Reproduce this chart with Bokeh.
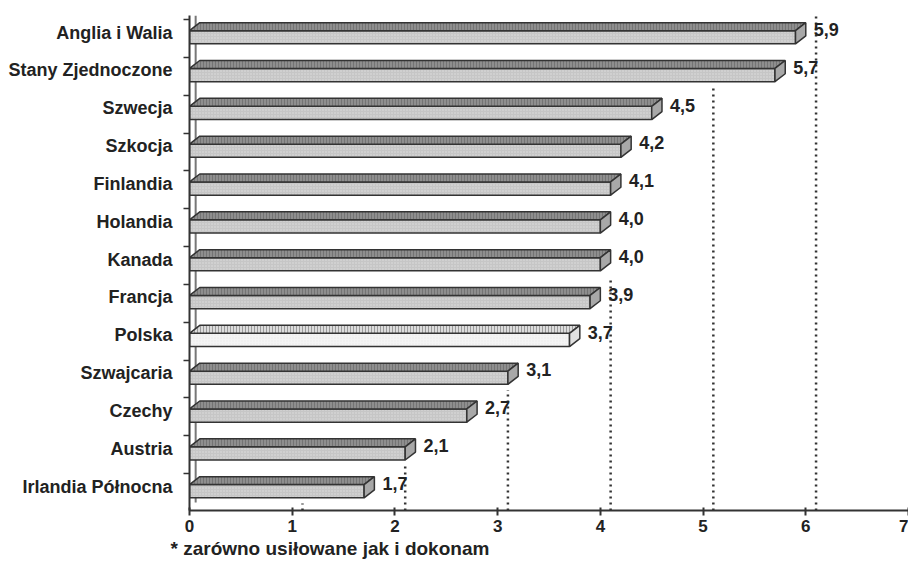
from bokeh.plotting import figure
from bokeh.models import FixedTicker, Range1d, Title, ColumnDataSource
from bokeh.core.properties import value
from bokeh.embed import file_html
from bokeh.resources import INLINE

countries = ["Anglia i Walia", "Stany Zjednoczone", "Szwecja", "Szkocja", "Finlandia",
             "Holandia", "Kanada", "Francja", "Polska", "Szwajcaria", "Czechy",
             "Austria", "Irlandia Północna"]
values = [5.9, 5.7, 4.5, 4.2, 4.1, 4.0, 4.0, 3.9, 3.7, 3.1, 2.7, 2.1, 1.7]
x_ticks = [0, 1, 2, 3, 4, 5, 6, 7]
footnote = "* zarówno usiłowane jak i dokonam"
highlight = "Polska"

FONT = "Liberation Sans"
n = len(countries)
idx = [n - 1 - i for i in range(n)]  # top row first

# 3D geometry (data units)
dx = 0.10      # depth along x
dy = 0.21      # depth along y
f_bot = -0.30  # front face bottom relative to row centre
f_top = 0.05   # front face top relative to row centre

y0, y1 = -0.634, 12.45

p = figure(width=908, height=560, output_backend="svg", toolbar_location=None,
           x_range=Range1d(0, 7), y_range=Range1d(y0, y1),
           min_border_left=189, min_border_right=0, min_border_top=15,
           min_border_bottom=50)
p.outline_line_color = None
p.xgrid.grid_line_color = None
p.ygrid.grid_line_color = None
p.background_fill_color = "white"

# dotted gridlines on the back wall, hidden above the first bar that passes them
gx, gy0, gy1 = [], [], []
for k in x_ticks[1:-1]:
    count = sum(1 for v in values if v + 0.05 >= k)
    top = y1 if count == 0 else (n - count) - 0.45
    gx.append(k + dx)
    gy0.append(y0)
    gy1.append(top)
p.segment(x0=gx, y0=gy0, x1=gx, y1=gy1, line_color="#333333", line_width=2.5,
          line_dash="2 4")

# back wall left edge
p.segment(x0=[dx * 0.6], y0=[y0 + dy], x1=[dx * 0.6], y1=[y1], line_color="#777777",
          line_width=2)

front_fill = ["#f4f4f4" if c == highlight else "#c6c6c6" for c in countries]
top_fill = ["#dcdcdc" if c == highlight else "#8e8e8e" for c in countries]
cap_fill = ["#e0e0e0" if c == highlight else "#a8a8a8" for c in countries]

src = ColumnDataSource(dict(
    left=[0] * n, right=values,
    bottom=[i + f_bot for i in idx], top=[i + f_top for i in idx],
    fill=front_fill))
p.quad(left="left", right="right", bottom="bottom", top="top", source=src,
       fill_color="fill", line_color="#333333", line_width=1.5,
       hatch_pattern="dot", hatch_color="#e6e6e6", hatch_scale=3, hatch_weight=1,
       hatch_alpha=0.8)

top_xs = [[0, v, v + dx, dx] for v in values]
top_ys = [[i + f_top, i + f_top, i + f_top + dy, i + f_top + dy] for i in idx]
p.patches(xs=top_xs, ys=top_ys, fill_color=top_fill, line_color="#333333",
          line_width=1.5, hatch_pattern="vertical_line", hatch_color="#5a5a5a",
          hatch_scale=3, hatch_weight=1, hatch_alpha=0.5)

cap_xs = [[v, v, v + dx, v + dx] for v in values]
cap_ys = [[i + f_bot, i + f_top, i + f_top + dy, i + f_bot + dy] for i in idx]
p.patches(xs=cap_xs, ys=cap_ys, fill_color=cap_fill, line_color="#333333",
          line_width=1.5)

labels = [f"{v:.1f}".replace(".", ",") for v in values]
p.text(x=[v + dx for v in values], y=[i + 0.08 for i in idx], text=labels,
       x_offset=8, text_font=value(FONT), text_font_style="bold",
       text_font_size="18px", text_color="#222222", text_baseline="middle")

# axes
xa = p.xaxis[0]
xa.ticker = FixedTicker(ticks=x_ticks)
xa.axis_line_color = "#333333"
xa.axis_line_width = 2
xa.major_tick_line_color = "#333333"
xa.major_tick_line_width = 2
xa.major_tick_out = 5
xa.major_tick_in = 3
xa.minor_tick_line_color = None
xa.major_label_text_font = FONT
xa.major_label_text_font_style = "bold"
xa.major_label_text_font_size = "17px"
xa.major_label_text_color = "#222222"
xa.major_label_standoff = 4

ya = p.yaxis[0]
ya.ticker = FixedTicker(ticks=idx, minor_ticks=[k + 0.34 for k in range(-1, n)])
ya.major_label_overrides = {i: c for i, c in zip(idx, countries)}
ya.axis_line_color = "#333333"
ya.axis_line_width = 2
ya.major_tick_line_color = None
ya.minor_tick_line_color = "#333333"
ya.minor_tick_line_width = 1.5
ya.minor_tick_out = 6
ya.minor_tick_in = 0
ya.major_label_text_font = FONT
ya.major_label_text_font_style = "bold"
ya.major_label_text_font_size = "18px"
ya.major_label_text_color = "#222222"
ya.major_label_standoff = 11

note = Title(text=footnote, align="left", offset=-19, text_font=FONT,
             text_font_style="bold", text_font_size="19px", text_color="#222222",
             standoff=2)
p.add_layout(note, "below")

open("out.html", "w").write(file_html(p, INLINE))
